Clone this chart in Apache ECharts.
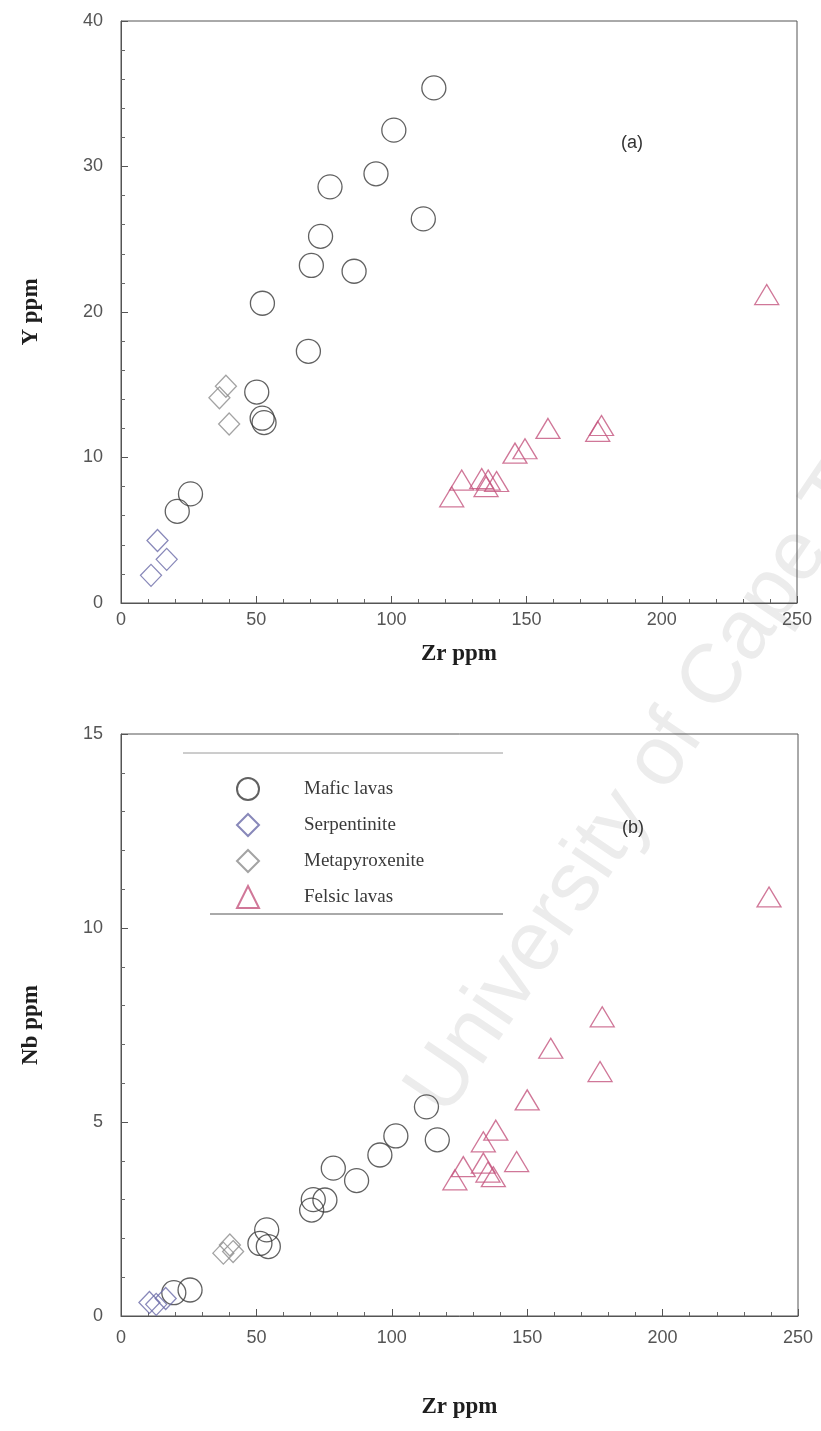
<!DOCTYPE html>
<html>
<head>
<meta charset="utf-8">
<script src="https://cdn.jsdelivr.net/npm/echarts@6/dist/echarts.min.js"></script>
<style>
  html, body { margin: 0; padding: 0; background: #ffffff; }
  #chart { width: 821px; height: 1431px; }
</style>
</head>
<body>
<div id="chart"></div>
<script>
// ---- Panel (a): Y versus Zr (ppm) ----
const maficZrA   = [115.7, 100.9, 94.3, 77.3, 111.8, 73.8, 70.4, 86.2, 52.3, 69.3, 50.2, 52.9, 52.2, 25.7, 20.8];
const maficYA    = [35.4, 32.5, 29.5, 28.6, 26.4, 25.2, 23.2, 22.8, 20.6, 17.3, 14.5, 12.4, 12.7, 7.5, 6.3];
const serpZrA    = [13.5, 16.9, 11.1];
const serpYA     = [4.3, 3.0, 1.9];
const metaZrA    = [38.8, 36.4, 40.0];
const metaYA     = [14.9, 14.1, 12.3];
const felsicZrA  = [238.8, 157.9, 176.3, 177.7, 145.7, 149.4, 133.4, 135.8, 138.9, 126.0, 122.3, 135.0];
const felsicYA   = [21.2, 12.0, 11.8, 12.2, 10.3, 10.6, 8.55, 8.45, 8.35, 8.45, 7.3, 8.0];

// ---- Panel (b): Nb versus Zr (ppm) ----
const maficZrB   = [112.8, 116.8, 101.5, 95.6, 78.4, 87.0, 71.0, 75.3, 70.4, 53.8, 51.3, 54.4, 25.5, 19.5];
const maficNbB   = [5.39, 4.54, 4.64, 4.15, 3.81, 3.49, 3.00, 2.99, 2.73, 2.22, 1.87, 1.79, 0.67, 0.60];
const serpZrB    = [10.5, 13.0, 16.5];
const serpNbB    = [0.35, 0.30, 0.45];
const metaZrB    = [37.8, 41.4, 40.2];
const metaNbB    = [1.62, 1.66, 1.83];
const felsicZrB  = [239.3, 177.7, 176.9, 158.7, 150.0, 138.4, 133.8, 146.1, 126.4, 123.3, 133.8, 137.5, 135.5];
const felsicNbB  = [10.8, 7.71, 6.30, 6.90, 5.57, 4.79, 4.49, 3.98, 3.85, 3.51, 3.94, 3.59, 3.71];

// ---- Axis ranges and tick steps ----
const zrRange = [0, 250], zrStep = 50;
const yRange  = [0, 40],  yStep  = 10;
const nbRange = [0, 15],  nbStep = 5;

const groupNames = ['Mafic lavas', 'Serpentinite', 'Metapyroxenite', 'Felsic lavas'];

const zip = (xs, ys) => xs.map((x, i) => [x, ys[i]]);

const hollow = (stroke) => ({ color: 'rgba(0,0,0,0)', borderColor: stroke, borderWidth: 1.3 });
const groupStyle = [
  { symbol: 'circle',   symbolSize: 24,       itemStyle: hollow('#3a3a3a') },
  { symbol: 'diamond',  symbolSize: [21, 22], itemStyle: hollow('#6a6aa8') },
  { symbol: 'diamond',  symbolSize: [21, 22], itemStyle: hollow('#8c8c8c') },
  { symbol: 'triangle', symbolSize: [24, 20], itemStyle: hollow('#c4557e') }
];

const panelData = [
  [zip(maficZrA, maficYA), zip(serpZrA, serpYA), zip(metaZrA, metaYA), zip(felsicZrA, felsicYA)],
  [zip(maficZrB, maficNbB), zip(serpZrB, serpNbB), zip(metaZrB, metaNbB), zip(felsicZrB, felsicNbB)]
];

const series = [];
panelData.forEach((groups, p) => {
  groups.forEach((pts, g) => {
    series.push(Object.assign({
      type: 'scatter',
      name: groupNames[g],
      xAxisIndex: p,
      yAxisIndex: p,
      data: pts,
      emphasis: { disabled: true }
    }, groupStyle[g]));
  });
});

const lineCol = '#555555';
const tickFont = { fontFamily: 'Liberation Sans', fontSize: 18, color: '#555555' };
const nameFont = { fontFamily: 'Liberation Serif', fontSize: 23, fontWeight: 'bold', color: '#1e1e1e' };

function valueAxis(gridIndex, range, step, extra) {
  return Object.assign({
    type: 'value',
    gridIndex,
    min: range[0],
    max: range[1],
    interval: step,
    splitLine: { show: false },
    axisLine: { show: true, lineStyle: { color: lineCol, width: 1 } },
    axisTick: { show: true, inside: true, length: 7, lineStyle: { color: lineCol } },
    minorTick: { show: true, splitNumber: 5, length: 4, lineStyle: { color: '#666666' } },
    axisLabel: Object.assign({}, tickFont),
    nameLocation: 'middle',
    nameTextStyle: Object.assign({}, nameFont)
  }, extra);
}

const option = {
  animation: false,
  backgroundColor: '#ffffff',
  grid: [
    { left: 121, right: 24, top: 21,  bottom: 828, show: true, borderColor: lineCol, borderWidth: 1 },
    { left: 121, right: 23, top: 734, bottom: 115, show: true, borderColor: lineCol, borderWidth: 1 }
  ],
  xAxis: [
    valueAxis(0, zrRange, zrStep, { name: 'Zr ppm', nameGap: 40, axisLabel: Object.assign({ margin: 8 }, tickFont) }),
    valueAxis(1, zrRange, zrStep, { name: 'Zr ppm', nameGap: 80, axisLabel: Object.assign({ margin: 13 }, tickFont) })
  ],
  yAxis: [
    valueAxis(0, yRange,  yStep,  { name: 'Y ppm',  nameGap: 78, axisLabel: Object.assign({ margin: 18 }, tickFont) }),
    valueAxis(1, nbRange, nbStep, { name: 'Nb ppm', nameGap: 78, axisLabel: Object.assign({ margin: 18 }, tickFont) })
  ],
  legend: {
    data: groupNames,
    orient: 'vertical',
    left: 231,
    top: 772,
    itemWidth: 22,
    itemHeight: 22,
    itemGap: 12,
    selectedMode: false,
    textStyle: { fontFamily: 'Liberation Serif', fontSize: 19, color: '#3a3a3a', padding: [0, 0, 0, 40] }
  },
  graphic: [
    // repository watermark, drawn faintly behind the data
    {
      type: 'text', x: 392, y: 1082, rotation: 56 * Math.PI / 180, z: -20, silent: true,
      style: { text: 'University of Cape Town', font: '84px "Liberation Sans"', fill: '#ececec' }
    },
    // panel labels
    { type: 'text', x: 632, y: 143, style: { text: '(a)', font: '18px "Liberation Sans"', fill: '#333', align: 'center', verticalAlign: 'middle' } },
    { type: 'text', x: 633, y: 828, style: { text: '(b)', font: '18px "Liberation Sans"', fill: '#333', align: 'center', verticalAlign: 'middle' } },
    // legend frame rules
    { type: 'line', shape: { x1: 183, y1: 753, x2: 503, y2: 753 }, style: { stroke: '#9a9a9a', lineWidth: 1 } },
    { type: 'line', shape: { x1: 210, y1: 914, x2: 503, y2: 914 }, style: { stroke: '#555555', lineWidth: 1 } }
  ],
  series
};

const chart = echarts.init(document.getElementById('chart'), null, { renderer: 'canvas' });
chart.setOption(option);
</script>
</body>
</html>
